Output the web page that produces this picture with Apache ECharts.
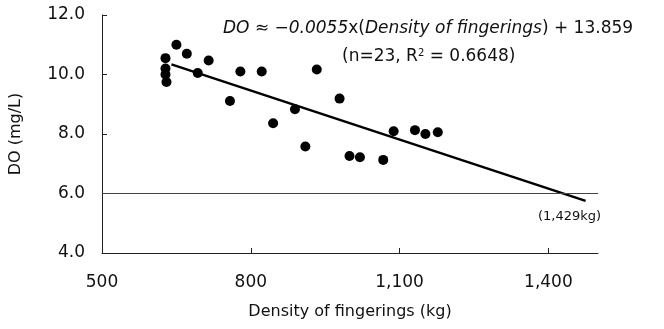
<!DOCTYPE html>
<html>
<head>
<meta charset="utf-8">
<script src="https://cdn.jsdelivr.net/npm/echarts@6/dist/echarts.min.js"></script>
<style>
  html, body { margin: 0; padding: 0; background: #fff; }
  #chart { width: 664px; height: 329px; }
</style>
</head>
<body>
<div id="chart"></div>
<script>
// density of fingerings (kg) vs DO (mg/L)
const density = [628, 628, 628, 630, 650, 671, 693, 715, 758, 779, 822, 845, 889, 910, 933, 979, 999, 1020, 1067, 1088, 1131, 1152, 1177];
const doValues = [10.55, 10.2, 10.0, 9.75, 11.0, 10.7, 10.05, 10.47, 9.11, 10.1, 10.1, 8.36, 8.83, 7.58, 10.17, 9.19, 7.26, 7.22, 7.13, 8.09, 8.13, 8.0, 8.06];
// fitted line ends
const fitX = [640, 1475];
const fitY = [10.34, 5.75];
const limitDO = 6.0;
const xTicks = [500, 800, 1100, 1400];

const font = '"DejaVu Sans", sans-serif';

const chart = echarts.init(document.getElementById('chart'));

const points = density.map((d, i) => [d, doValues[i]]);
const fitLine = fitX.map((d, i) => [d, fitY[i]]);

chart.setOption({
  animation: false,
  grid: { left: 100, right: 66, top: 15, bottom: 76 },
  xAxis: {
    type: 'value',
    min: 500,
    max: 1500,
    interval: 300,
    name: 'Density of fingerings (kg)',
    nameLocation: 'middle',
    nameGap: 51,
    nameTextStyle: { color: '#111', fontSize: 16, fontFamily: font },
    axisLine: { show: true, lineStyle: { color: '#222', width: 1 } },
    axisTick: { show: true, inside: true, length: 5, lineStyle: { color: '#222' } },
    splitLine: { show: false },
    axisLabel: {
      color: '#111',
      fontSize: 17,
      fontFamily: font,
      margin: 21,
      showMaxLabel: false,
      formatter: function (v) {
        return xTicks.indexOf(v) >= 0 ? v.toLocaleString('en-US') : '';
      }
    }
  },
  yAxis: {
    type: 'value',
    min: 4,
    max: 12,
    interval: 2,
    name: 'DO (mg/L)',
    nameLocation: 'middle',
    nameGap: 78,
    nameTextStyle: { color: '#111', fontSize: 16, fontFamily: font },
    axisLine: { show: true, lineStyle: { color: '#222', width: 1 } },
    axisTick: { show: true, inside: true, length: 5, lineStyle: { color: '#222' } },
    splitLine: { show: false },
    axisLabel: {
      color: '#111',
      fontSize: 17,
      fontFamily: font,
      margin: 17,
      formatter: function (v) { return v.toFixed(1); }
    }
  },
  series: [
    {
      type: 'scatter',
      data: points,
      symbolSize: 10,
      itemStyle: { color: '#000', opacity: 1 },
      markLine: {
        silent: true,
        symbol: 'none',
        label: { show: false },
        lineStyle: { color: '#444', width: 1, type: 'solid' },
        data: [{ yAxis: limitDO }]
      }
    },
    {
      type: 'line',
      data: fitLine,
      showSymbol: false,
      lineStyle: { color: '#000', width: 2.5 },
      z: 1
    }
  ],
  graphic: [
    {
      type: 'text',
      left: 223,
      top: 20,
      style: {
        text: '{i|DO} ≈ −{i|0.0055}x({i|Density of fingerings}) + 13.859',
        font: '17px ' + font,
        fill: '#111',
        rich: {
          i: { fontStyle: 'italic', fontSize: 17, fontFamily: font, fill: '#111' }
        }
      }
    },
    {
      type: 'text',
      left: 342,
      top: 48,
      style: {
        text: '(n=23, R{sup|2} = 0.6648)',
        font: '17px ' + font,
        fill: '#111',
        rich: {
          sup: { fontSize: 10, fontFamily: font, verticalAlign: 'top', padding: [0, 0, 8, 0], fill: '#111' }
        }
      }
    },
    {
      type: 'text',
      left: 538,
      top: 210,
      style: {
        text: '(1,429kg)',
        font: '13px ' + font,
        fill: '#111'
      }
    }
  ]
});
</script>
</body>
</html>
